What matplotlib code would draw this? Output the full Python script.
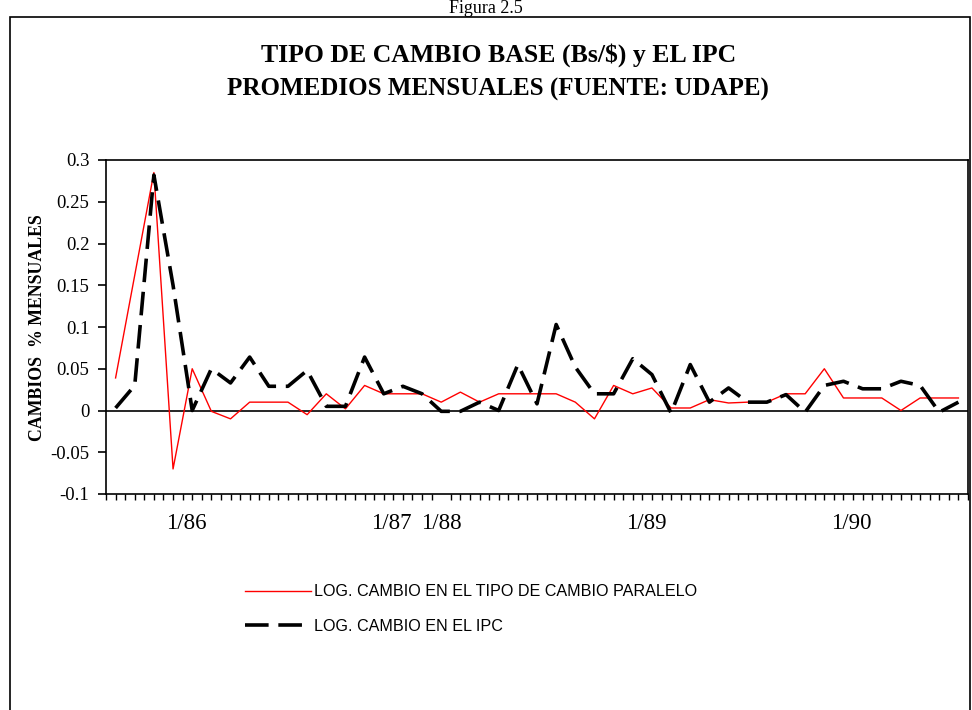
import matplotlib
matplotlib.use("Agg")
import matplotlib.pyplot as plt
import numpy as np
from matplotlib.patches import Rectangle
from matplotlib.ticker import FixedLocator, MultipleLocator

plt.rcParams['lines.scale_dashes'] = False

# log change in parallel exchange rate (red) and in the CPI (black dashed)
paralelo = [0.039, 0.162, 0.285, -0.07, 0.05, -0.001, -0.01, 0.01, 0.01, 0.01,
            -0.005, 0.02, 0.002, 0.03, 0.02, 0.02, 0.02, 0.01, 0.022, 0.01,
            0.02, 0.02, 0.02, 0.02, 0.01, -0.01, 0.03, 0.02, 0.027, 0.003,
            0.003, 0.013, 0.009, 0.01, 0.01, 0.02, 0.02, 0.05, 0.015, 0.015,
            0.015, 0.0, 0.015, 0.015, 0.015]
ipc = [0.003, 0.03, 0.282, 0.15, 0.0, 0.05, 0.033, 0.064, 0.029, 0.029,
       0.048, 0.005, 0.005, 0.064, 0.02, 0.029, 0.02, -0.001, -0.001, 0.01,
       0.0, 0.055, 0.008, 0.103, 0.052, 0.02, 0.02, 0.062, 0.043, -0.003,
       0.055, 0.01, 0.027, 0.01, 0.01, 0.019, -0.002, 0.03, 0.035, 0.026,
       0.026, 0.035, 0.03, -0.002, 0.01]

xlabels = ['1/86', '1/87', '1/88', '1/89', '1/90']
xlabel_pos = [3.7, 14.4, 17.0, 27.7, 38.4]
yticks = [-0.1, -0.05, 0, 0.05, 0.1, 0.15, 0.2, 0.25, 0.3]
ylabels = ['-0.1', '-0.05', '0', '0.05', '0.1', '0.15', '0.2', '0.25', '0.3']

serif = 'Liberation Serif'
sans = 'Liberation Sans'

W, H = 972, 710
fig = plt.figure(figsize=(W / 100, H / 100), dpi=100)

# outer frame (runs past the bottom edge)
fig.add_artist(Rectangle((10 / W, -0.1), 960 / W, 1.1 - 17 / H,
                         transform=fig.transFigure, fill=False,
                         edgecolor='black', linewidth=1.2, clip_on=False))
fig.text(486 / W, 1 - 13 / H, 'Figura 2.5', ha='center', va='baseline',
         family=serif, fontsize=13)

fig.text(499 / W, 1 - 55 / H, 'TIPO DE CAMBIO BASE (Bs/$) y EL IPC',
         ha='center', va='center', family=serif, fontweight='bold', fontsize=18.5)
fig.text(498 / W, 1 - 89 / H, 'PROMEDIOS MENSUALES (FUENTE: UDAPE)',
         ha='center', va='center', family=serif, fontweight='bold', fontsize=18)

ax = fig.add_axes([106 / W, (H - 494) / H, (968 - 106) / W, (494 - 160) / H])
x = np.arange(len(paralelo))

ax.axhline(0, color='black', linewidth=1.2, zorder=1)
ax.plot(x, paralelo, color='#ff0000', linewidth=1.0, zorder=2,
        label='LOG. CAMBIO EN EL TIPO DE CAMBIO PARALELO')
ax.plot(x, ipc, color='black', linewidth=2.6, dashes=(17, 7), zorder=3,
        label='LOG. CAMBIO EN EL IPC')

ax.set_xlim(-0.5, len(paralelo) - 0.5)
ax.set_ylim(-0.1, 0.3)

ax.set_yticks(yticks)
ax.set_yticklabels(ylabels, family=serif, fontsize=13.5)
ax.tick_params(axis='y', direction='out', length=6, width=1.2, pad=6)

ax.xaxis.set_major_locator(FixedLocator(xlabel_pos))
ax.set_xticklabels(xlabels, family=serif, fontsize=16.5)
ax.xaxis.set_minor_locator(MultipleLocator(0.5))
ax.tick_params(axis='x', which='major', length=0, pad=14)
ax.tick_params(axis='x', which='minor', direction='out', length=4, width=1)

for s in ax.spines.values():
    s.set_linewidth(1.2)

fig.text(37 / W, 1 - 328 / H, 'CAMBIOS  % MENSUALES', rotation=90,
         ha='center', va='center', family=serif, fontweight='bold',
         fontsize=12.8)

leg = fig.legend(loc='upper left', bbox_to_anchor=(230 / W, 1 - 570 / H),
                 frameon=False, handlelength=4.1, handletextpad=0.2,
                 labelspacing=1.2, prop={'family': sans, 'size': 11.6})

fig.savefig('out.png', dpi=100)
